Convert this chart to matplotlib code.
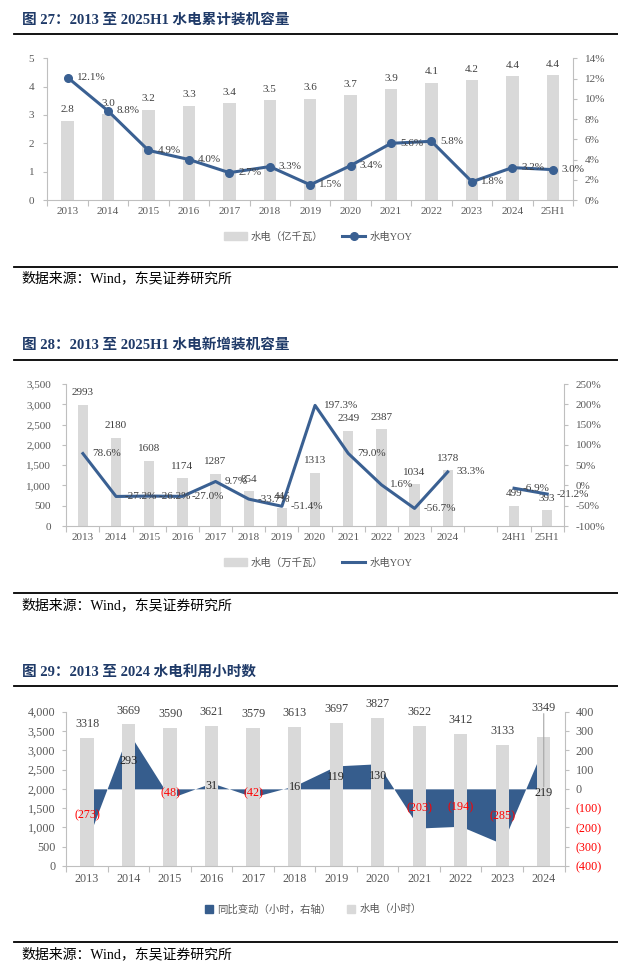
import matplotlib
matplotlib.use('Agg')
import matplotlib.pyplot as plt
import numpy as np
from matplotlib.patches import Patch
from matplotlib.lines import Line2D
from matplotlib.ticker import FuncFormatter

plt.rcParams['font.family'] = ['Liberation Serif', 'Noto Sans CJK SC', 'DejaVu Sans']

# ---------------- data ----------------
# Chart 27
cap_years = ['2013', '2014', '2015', '2016', '2017', '2018', '2019', '2020', '2021', '2022', '2023', '2024', '25H1']
cap_total = [2.80, 3.03, 3.19, 3.32, 3.41, 3.52, 3.57, 3.70, 3.91, 4.14, 4.22, 4.36, 4.40]   # 亿千瓦
cap_yoy = [12.1, 8.8, 4.9, 4.0, 2.7, 3.3, 1.5, 3.4, 5.6, 5.8, 1.8, 3.2, 3.0]                 # %

# Chart 28
new_years = ['2013', '2014', '2015', '2016', '2017', '2018', '2019', '2020', '2021', '2022', '2023', '2024', '', '24H1', '25H1']
new_cap = [2993, 2180, 1608, 1174, 1287, 854, 445, 1313, 2349, 2387, 1034, 1378, np.nan, 499, 393]   # 万千瓦
new_yoy = [78.6, -27.2, -26.2, -27.0, 9.7, -33.7, -51.4, 197.3, 79.0, 1.6, -56.7, 33.3, np.nan, -6.9, -21.2]

# Chart 29
hr_years = ['2013', '2014', '2015', '2016', '2017', '2018', '2019', '2020', '2021', '2022', '2023', '2024']
hours = [3318, 3669, 3590, 3621, 3579, 3613, 3697, 3827, 3622, 3412, 3133, 3349]
hours_chg = [-273, 293, -48, 31, -42, 16, 119, 130, -203, -194, -285, 219]

titles = ['图 27：2013 至 2025H1 水电累计装机容量',
          '图 28：2013 至 2025H1 水电新增装机容量',
          '图 29：2013 至 2024 水电利用小时数']
source = '数据来源：Wind，东吴证券研究所'

# ---------------- style ----------------
W, H = 618, 966
BAR = '#D9D9D9'
BLUE = '#3A6092'
AREA = '#365D8D'
TXT = '#404040'
TICK = '#595959'
SPINE = '#BFBFBF'
TITLE_C = '#1F3A68'

fig = plt.figure(figsize=(W / 100, H / 100), dpi=100)


def rect(l, r, t, b):
    return [l / W, 1 - b / H, (r - l) / W, (b - t) / H]


def header(title_y, rule_y, src_rule_y, src_y, title):
    fig.text(21.7 / W, 1 - title_y / H, title, fontsize=10.5, fontweight='bold',
             color=TITLE_C, va='center', ha='left')
    for yy in (rule_y, src_rule_y):
        fig.add_artist(Line2D([14 / W, 1.0], [1 - yy / H, 1 - yy / H], color='black', lw=1.3,
                              transform=fig.transFigure))
    fig.text(21.7 / W, 1 - src_y / H, source, fontsize=10, color='black', va='center', ha='left')


def style(ax, axr, cats, fs, lpad, rpad, xpad):
    n = len(cats)
    ax.set_xlim(-0.5, n - 0.5)
    ax.set_xticks(np.arange(-0.5, n, 1))
    ax.set_xticklabels([])
    ax.set_xticks(np.arange(n), minor=True)
    ax.set_xticklabels(cats, minor=True)
    ax.tick_params(axis='x', which='major', length=4, color=SPINE, width=0.8)
    ax.tick_params(axis='x', which='minor', length=0, pad=xpad, labelsize=fs, labelcolor=TICK)
    ax.tick_params(axis='y', length=3, color=SPINE, width=0.8, pad=lpad, labelsize=fs, labelcolor=TICK)
    axr.tick_params(axis='y', length=3, color=SPINE, width=0.8, pad=rpad, labelsize=fs, labelcolor=TICK)
    for a in (ax, axr):
        for s in a.spines.values():
            s.set_visible(False)
    ax.spines['left'].set_visible(True)
    ax.spines['bottom'].set_visible(True)
    axr.spines['right'].set_visible(True)
    for s in (ax.spines['left'], ax.spines['bottom'], axr.spines['right']):
        s.set_color(SPINE)
        s.set_linewidth(0.8)


# ================= Chart 27 =================
header(20, 34, 266.7, 278, titles[0])
ax1 = fig.add_axes(rect(47.4, 573, 58.3, 200))
ax1r = ax1.twinx()
x1 = np.arange(len(cap_years))
ax1.bar(x1, cap_total, width=0.31, color=BAR, zorder=2)
ax1.set_ylim(0, 5)
ax1.set_yticks(range(0, 6))
ax1r.set_ylim(0, 14)
ax1r.set_yticks(range(0, 15, 2))
ax1r.yaxis.set_major_formatter(FuncFormatter(lambda v, p: f'{v:.0f}%'))
ax1r.plot(x1, cap_yoy, color=BLUE, lw=2.2, marker='o', ms=5.5, zorder=3)
style(ax1, ax1r, cap_years, 8, 6.5, 5.5, 5)
for i, v in enumerate(cap_total):
    ax1.annotate(f'{v:.1f}', (i, v), xytext=(0, 8), textcoords='offset points',
                 ha='center', va='center', fontsize=8, color=TXT)
for i, v in enumerate(cap_yoy):
    ax1r.annotate(f'{v:.1f}%', (i, v), xytext=(6.5, 0), textcoords='offset points',
                  ha='left', va='center', fontsize=8, color=TXT, zorder=5)
fig.legend(handles=[Patch(color=BAR), Line2D([], [], color=BLUE, lw=2.2, marker='o', ms=5.5)],
           labels=['水电（亿千瓦）', '水电YOY'], loc='center', ncol=2, frameon=False,
           bbox_to_anchor=(318 / W, 1 - 236.7 / H), bbox_transform=fig.transFigure,
           fontsize=7.5, labelcolor=TICK, handlelength=2.2, handletextpad=0.4, columnspacing=1.8)

# ================= Chart 28 =================
header(345, 360, 593.3, 605, titles[1])
ax2 = fig.add_axes(rect(66.3, 563.8, 384, 526))
ax2r = ax2.twinx()
x2 = np.arange(len(new_years))
ax2.bar(x2, new_cap, width=0.31, color=BAR, zorder=2)
ax2.set_ylim(0, 3500)
ax2.set_yticks(range(0, 3501, 500))
ax2.yaxis.set_major_formatter(FuncFormatter(lambda v, p: f'{v:,.0f}'))
ax2r.set_ylim(-100, 250)
ax2r.set_yticks(range(-100, 251, 50))
ax2r.yaxis.set_major_formatter(FuncFormatter(lambda v, p: f'{v:.0f}%'))
ax2r.plot(x2, new_yoy, color=BLUE, lw=2.2, zorder=3)
style(ax2, ax2r, new_years, 8, 8, 5.5, 5)
for i, v in enumerate(new_cap):
    if not np.isnan(v):
        ax2.annotate(f'{v:.0f}', (i, v), xytext=(0, 8.5), textcoords='offset points',
                     ha='center', va='center', fontsize=8, color=TXT)
for i, v in enumerate(new_yoy):
    if not np.isnan(v):
        ax2r.annotate(f'{v:.1f}%', (i, v), xytext=(6.5, 0), textcoords='offset points',
                      ha='left', va='center', fontsize=8, color=TXT, zorder=5)
fig.legend(handles=[Patch(color=BAR), Line2D([], [], color=BLUE, lw=2.2)],
           labels=['水电（万千瓦）', '水电YOY'], loc='center', ncol=2, frameon=False,
           bbox_to_anchor=(318 / W, 1 - 562.7 / H), bbox_transform=fig.transFigure,
           fontsize=7.5, labelcolor=TICK, handlelength=2.2, handletextpad=0.4, columnspacing=1.8)

# ================= Chart 29 =================
header(671.7, 686, 942, 954, titles[2])
ax3 = fig.add_axes(rect(66.3, 564.5, 711.7, 866))
ax3r = ax3.twinx()
ax3.set_zorder(ax3r.get_zorder() + 1)
ax3.patch.set_visible(False)
x3 = np.arange(len(hr_years))
ax3r.fill_between(x3, 0, hours_chg, color=AREA, lw=0)
ax3.bar(x3, hours, width=0.32, color=BAR, zorder=2)
ax3.set_ylim(0, 4000)
ax3.set_yticks(range(0, 4001, 500))
ax3.yaxis.set_major_formatter(FuncFormatter(lambda v, p: f'{v:,.0f}'))
ax3r.set_ylim(-400, 400)
ax3r.set_yticks(range(-400, 401, 100))
ax3r.yaxis.set_major_formatter(FuncFormatter(lambda v, p: f'({-v:.0f})' if v < 0 else f'{v:.0f}'))
style(ax3, ax3r, hr_years, 8.7, 5, 5, 5)
fig.canvas.draw()
for lab in ax3r.get_yticklabels():
    if lab.get_text().startswith('('):
        lab.set_color('#FF0000')

lifted = {'2024': 11}
bar_labels = {}
for i, v in enumerate(hours):
    t = ax3.annotate(f'{v:.0f}', (i, v), xytext=(0, 10 + lifted.get(hr_years[i], 0)),
                     textcoords='offset points', ha='center', va='center', fontsize=8.7, color=TXT)
    bar_labels[i] = t
moved_down = {'2024': -18}
chg_labels = {}
for i, v in enumerate(hours_chg):
    txt = f'({-v:.0f})' if v < 0 else f'{v:.0f}'
    col = '#FF0000' if v < 0 else '#262626'
    t = ax3.annotate(txt, (i, v / 2), xycoords=ax3r.transData,
                     xytext=(0, moved_down.get(hr_years[i], 0)), textcoords='offset points',
                     ha='center', va='center', fontsize=8.7, color=col, zorder=6)
    chg_labels[i] = t
last = len(hr_years) - 1
ax3.annotate('', xy=(0.5, 0.0), xycoords=bar_labels[last], xytext=(0.5, 1.0),
             textcoords=chg_labels[last],
             arrowprops=dict(arrowstyle='-', color='#A6A6A6', lw=0.8, shrinkA=0, shrinkB=0))
fig.legend(handles=[Patch(color=AREA), Patch(color=BAR)],
           labels=['同比变动（小时，右轴）', '水电（小时）'], loc='center', ncol=2, frameon=False,
           bbox_to_anchor=(313 / W, 1 - 909.3 / H), bbox_transform=fig.transFigure,
           fontsize=7.5, labelcolor=TICK, handlelength=0.8, handleheight=0.8,
           handletextpad=0.4, columnspacing=1.5)

fig.savefig('out.png', dpi=100)
